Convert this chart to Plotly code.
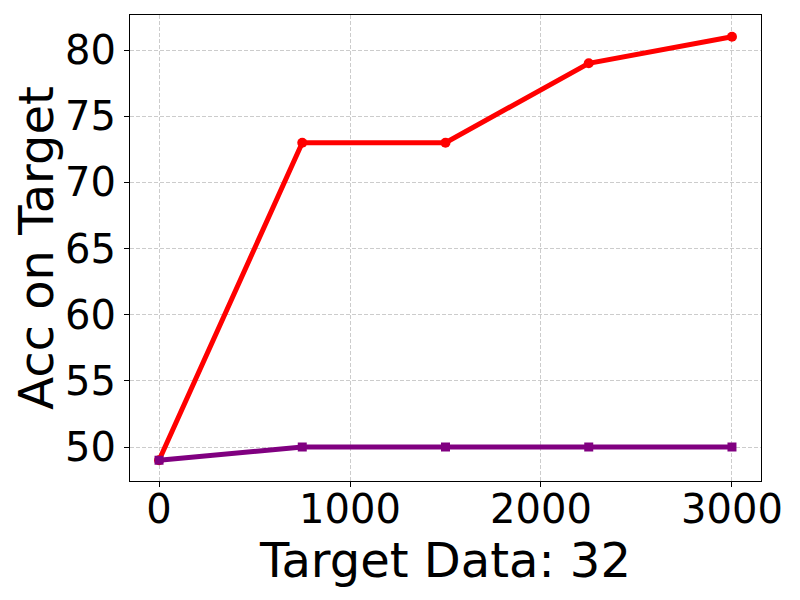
import plotly.graph_objects as go

x_vals = [0, 750, 1500, 2250, 3000]
red_acc = [49, 73, 73, 79, 81]
purple_acc = [49, 50, 50, 50, 50]

fig = go.Figure()
fig.add_trace(go.Scatter(
    x=x_vals, y=red_acc, mode="lines+markers",
    line=dict(color="red", width=5),
    marker=dict(symbol="circle", size=10, color="red"),
    showlegend=False,
))
fig.add_trace(go.Scatter(
    x=x_vals, y=purple_acc, mode="lines+markers",
    line=dict(color="purple", width=5),
    marker=dict(symbol="square", size=9, color="purple"),
    showlegend=False,
))

axis_common = dict(
    showline=True, linecolor="black", linewidth=1, mirror=True,
    ticks="outside", ticklen=5, tickcolor="black",
    showgrid=True, gridcolor="#cccccc", griddash="4px,2px", gridwidth=1,
    zeroline=False,
    tickfont=dict(size=40, color="black"),
)

fig.update_xaxes(
    range=[-152, 3152], tickvals=[0, 1000, 2000, 3000],
    ticklabelstandoff=-12,
    title=dict(text="Target Data: 32", font=dict(size=48, color="black"), standoff=0),
    **axis_common,
)
fig.update_yaxes(
    range=[47.43, 82.65], tickvals=[50, 55, 60, 65, 70, 75, 80],
    title=dict(text="Acc on Target", font=dict(size=48, color="black"), standoff=6),
    **axis_common,
)

# page body has an 8px margin, so the figure sits at (8, 8)
fig.update_layout(
    width=800, height=600,
    margin=dict(l=122, r=47, t=7, b=127),
    plot_bgcolor="white", paper_bgcolor="white",
    font=dict(family="DejaVu Sans"),
)

fig.write_html("out.html")
